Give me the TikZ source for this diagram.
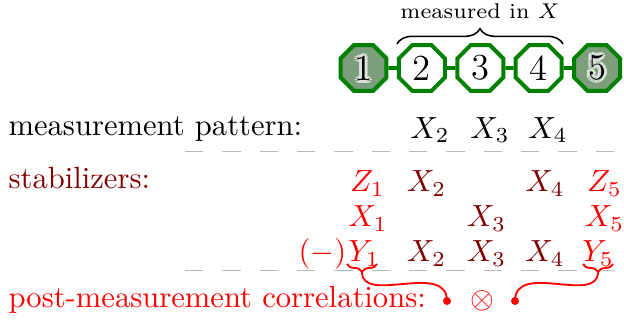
\documentclass[tikz,border=0pt]{standalone}
\usetikzlibrary{shapes.geometric,decorations.pathreplacing}
\definecolor{octgreen}{rgb}{0,0.5,0}
\definecolor{octfill}{RGB}{125,158,125}
\definecolor{haloc}{RGB}{218,226,218}
\definecolor{darkred}{rgb}{0.5,0,0}
\definecolor{dashgray}{RGB}{185,185,185}
\newcommand\halotxt[1]{\setbox0\hbox{#1}%
 {\color{haloc}%
  \rlap{\kern1pt\copy0}\rlap{\kern-1pt\copy0}%
  \rlap{\raise1pt\copy0}\rlap{\lower1pt\copy0}%
  \rlap{\kern0.7pt\raise0.7pt\copy0}\rlap{\kern-0.7pt\raise0.7pt\copy0}%
  \rlap{\kern0.7pt\lower0.7pt\copy0}\rlap{\kern-0.7pt\lower0.7pt\copy0}}%
 \box0}
\begin{document}
\begin{tikzpicture}[x=0.3268pt,y=-0.3268pt,
 oct/.style={regular polygon, regular polygon sides=8, draw=octgreen, line width=1.3pt, fill=white, minimum size=16.25pt, inner sep=0pt, font=\large},
 outq/.style={oct, fill=octfill},
 link/.style={draw=octgreen, line width=1.3pt},
 lab/.style={inner sep=0pt, anchor=base west},
 op/.style={inner sep=0pt, anchor=base},
 sep/.style={draw=dashgray, line width=0.5pt, dash pattern=on 6pt off 6.2pt},
 corr/.style={draw=red, line width=0.6pt},
 dot/.style={circle, fill=red, inner sep=0pt, minimum size=2.6pt},
 brc/.style={decorate, decoration={brace, amplitude=#1}},
]
\useasboundingbox (0,0) rectangle (624,325);
% separators
\draw[sep] (185,151.5) -- (622,151.5);
\draw[sep] (185,270.5) -- (622,270.5);
% cluster chain
\node[outq] (n1) at (363.5,68) {\halotxt{1}};
\node[oct]  (n2) at (421.9,68) {2};
\node[oct]  (n3) at (480.3,68) {3};
\node[oct]  (n4) at (538.7,68) {4};
\node[outq] (n5) at (597.1,68) {\halotxt{5}};
\draw[link] (n1) -- (n2);
\draw[link] (n2) -- (n3);
\draw[link] (n3) -- (n4);
\draw[link] (n4) -- (n5);
% brace above
\draw[brc=5pt, line width=0.5pt] (397,44) -- (563,44);
\node[op, font=\scriptsize] (mx) at (480,19) {measured in $X$};
% measurement pattern
\node[lab] (mp) at (8,135.7) {measurement pattern:};
\node[op] (p2) at (430,138.3) {$X_2$};
\node[op] (p3) at (490,138.3) {$X_3$};
\node[op] (p4) at (548,138.3) {$X_4$};
% stabilizers
\node[lab, text=darkred] (st) at (8,188.3) {stabilizers:};
\node[op, text=red]     (s11) at (367.5,191.7) {$Z_1$};
\node[op, text=darkred] (s12) at (426.5,191.7) {$X_2$};
\node[op, text=darkred] (s14) at (545,191.7) {$X_4$};
\node[op, text=red]     (s15) at (604.5,191.7) {$Z_5$};
\node[op, text=red]     (s21) at (368,226.7) {$X_1$};
\node[op, text=darkred] (s23) at (486.5,226.7) {$X_3$};
\node[op, text=red]     (s25) at (604.5,226.7) {$X_5$};
\node[op, text=red]     (sgn) at (322.5,261.5) {$(-)$};
\node[op, text=red]     (s31) at (364,261.5) {$Y_1$};
\node[op, text=darkred] (s32) at (426.5,261.5) {$X_2$};
\node[op, text=darkred] (s33) at (486.5,261.5) {$X_3$};
\node[op, text=darkred] (s34) at (545,261.5) {$X_4$};
\node[op, text=red]     (s35) at (598,261.5) {$Y_5$};
% correlations
\node[lab, text=red] (pm) at (8,307.3) {post-measurement correlations:};
\node[op, text=red] (ot) at (482,308.6) {$\otimes$};
\node[dot] (d1) at (447,301) {};
\node[dot] (d5) at (515,301) {};
\draw[corr, brc=2.6pt, decoration={mirror}] (347,264) -- (377,264);
\draw[corr, brc=2.6pt, decoration={mirror}] (583,264) -- (613,264);
\coordinate (t1) at (362,272);
\coordinate (t5) at (598,272);
\draw[corr] (t1) .. controls +(0,33) and +(0,-40) .. (d1.center);
\draw[corr] (t5) .. controls +(0,33) and +(0,-40) .. (d5.center);
\end{tikzpicture}
\end{document}
